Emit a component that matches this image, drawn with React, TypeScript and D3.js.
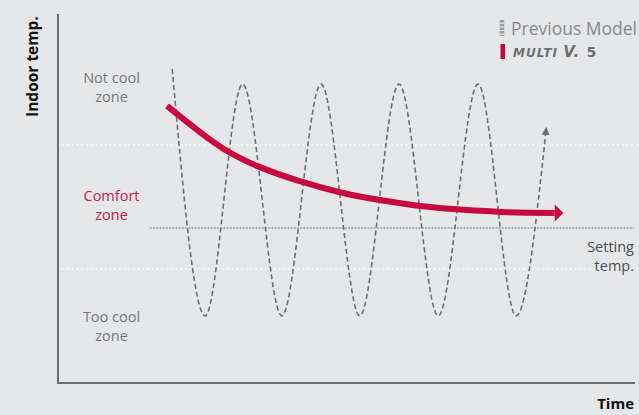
import React from "react";
import * as d3 from "d3";

// ---- data (time, temperature in arbitrary 0-100 units) ----
const prevTime = [19.8, 25.5, 32.0, 38.8, 45.6, 52.3, 59.1, 65.9, 72.8, 79.4, 84.5];
const prevTemp = [85.1, 18.2, 81.0, 18.2, 81.0, 18.2, 81.0, 18.2, 81.0, 18.2, 67.2];

const multiTime = [18.9, 24.6, 29.6, 35.0, 41.9, 49.4, 55.8, 63.2, 69.7, 77.8, 86.1];
const multiTemp = [75.1, 68.0, 62.6, 58.5, 54.7, 51.5, 49.6, 47.9, 47.0, 46.3, 46.1];

const zoneBounds = [64.5, 30.9]; // upper / lower comfort-zone bounds
const settingTemp = 42.0;

const zoneLabels = [
  { lines: ["Not cool", "zone"], temp: 81.3, color: "#77787b" },
  { lines: ["Comfort", "zone"], temp: 49.4, color: "#c8174b" },
  { lines: ["Too cool", "zone"], temp: 16.6, color: "#77787b" },
];

const legendItems = ["Previous Model", "MULTI V. 5"];

const W = 639;
const H = 415;
const FONT = "'Open Sans', 'Noto Sans', sans-serif";
const RED = "#c8093f";
const GRAY = "#6d6e71";

export default function App() {
  const x = d3.scaleLinear().domain([0, 100]).range([58, 635]);
  const y = d3.scaleLinear().domain([0, 100]).range([383, 14]);

  const waveLine = d3
    .line<[number, number]>()
    .x((d) => x(d[0]))
    .y((d) => y(d[1]))
    .curve(d3.curveMonotoneX);

  const smoothLine = d3
    .line<[number, number]>()
    .x((d) => x(d[0]))
    .y((d) => y(d[1]))
    .curve(d3.curveNatural);

  const prevPts = prevTime.map((t, i) => [t, prevTemp[i]] as [number, number]);
  const multiPts = multiTime.map((t, i) => [t, multiTemp[i]] as [number, number]);

  const [m1, m2, m3] = legendItems[1].split(" ");

  return (
    <svg
      width={W}
      height={H}
      style={{ position: "fixed", left: 0, top: 0, background: "#e6e7e9" }}
    >
      <defs>
        <marker
          id="redHead"
          markerUnits="userSpaceOnUse"
          markerWidth={12}
          markerHeight={20}
          viewBox="0 -10 10 20"
          refX={0}
          refY={0}
          orient="auto"
        >
          <path d="M0,-8.5 L8.5,0 L0,8.5 Z" fill={RED} />
        </marker>
        <marker
          id="grayHead"
          markerUnits="userSpaceOnUse"
          markerWidth={10}
          markerHeight={10}
          viewBox="0 -5 10 10"
          refX={0}
          refY={0}
          orient="auto"
        >
          <path d="M0,-4 L8,0 L0,4 Z" fill={GRAY} />
        </marker>
      </defs>
      <rect width={W} height={H} fill="#e6e7e9" />

      {/* zone boundaries */}
      {zoneBounds.map((v, i) => (
        <line
          key={i}
          x1={x(0)}
          x2={W}
          y1={y(v)}
          y2={y(v)}
          stroke="#ffffff"
          strokeWidth={1.5}
          strokeDasharray="1.5 3.2"
        />
      ))}
      {/* setting temp */}
      <line
        x1={x(15.9)}
        x2={x(99.8)}
        y1={y(settingTemp)}
        y2={y(settingTemp)}
        stroke="#9a9b9e"
        strokeWidth={1.5}
        strokeDasharray="2 1.2"
      />

      {/* axes */}
      <line x1={x(0)} x2={x(0)} y1={y(100)} y2={y(0) + 1} stroke={GRAY} strokeWidth={2} />
      <line x1={x(0)} x2={x(100)} y1={y(0)} y2={y(0)} stroke={GRAY} strokeWidth={2} />

      {/* previous model */}
      <path
        d={waveLine(prevPts) || ""}
        fill="none"
        stroke={GRAY}
        strokeWidth={1.6}
        strokeDasharray="5 3"
        markerEnd="url(#grayHead)"
      />
      {/* multi v 5 */}
      <path
        d={smoothLine(multiPts) || ""}
        fill="none"
        stroke={RED}
        strokeWidth={6}
        markerEnd="url(#redHead)"
      />

      {/* zone labels */}
      {zoneLabels.map((z, i) => (
        <text
          key={i}
          x={111.5}
          y={y(z.temp)}
          textAnchor="middle"
          fill={z.color}
          fontFamily={FONT}
          fontSize={14.5}
        >
          {z.lines.map((l, j) => (
            <tspan key={j} x={111.5} dy={j === 0 ? 0 : 19}>
              {l}
            </tspan>
          ))}
        </text>
      ))}

      <text x={634} y={251.5} textAnchor="end" fill="#4d4e50" fontFamily={FONT} fontSize={14.5}>
        <tspan x={634}>Setting</tspan>
        <tspan x={634} dy={19}>temp.</tspan>
      </text>

      {/* axis titles */}
      <text
        transform="translate(38,117) rotate(-90)"
        fill="#111"
        fontFamily={FONT}
        fontWeight="bold"
        fontSize={15.5}
      >
        Indoor temp.
      </text>
      <text x={634} y={409} textAnchor="end" fill="#111" fontFamily={FONT} fontWeight="bold" fontSize={15}>
        Time
      </text>

      {/* legend */}
      <line x1={502} x2={502} y1={20} y2={36} stroke="#999a9c" strokeWidth={4.5} strokeDasharray="2.5 1.2" />
      <text x={511} y={35} fill="#88898c" fontFamily={FONT} fontSize={17.5}>
        {legendItems[0]}
      </text>
      <rect x={500.5} y={44} width={4.5} height={15} fill={RED} />
      <text
        x={513}
        y={57}
        fill="#6d6e71"
        fontFamily="'DejaVu Sans', sans-serif"
        fontWeight="bold"
        fontStyle="italic"
        fontSize={12}
        letterSpacing={1}
      >
        <tspan>{m1} </tspan>
        <tspan fontSize={15}>{m2} </tspan>
        <tspan fontStyle="normal" fontSize={14}>{m3}</tspan>
      </text>
    </svg>
  );
}
